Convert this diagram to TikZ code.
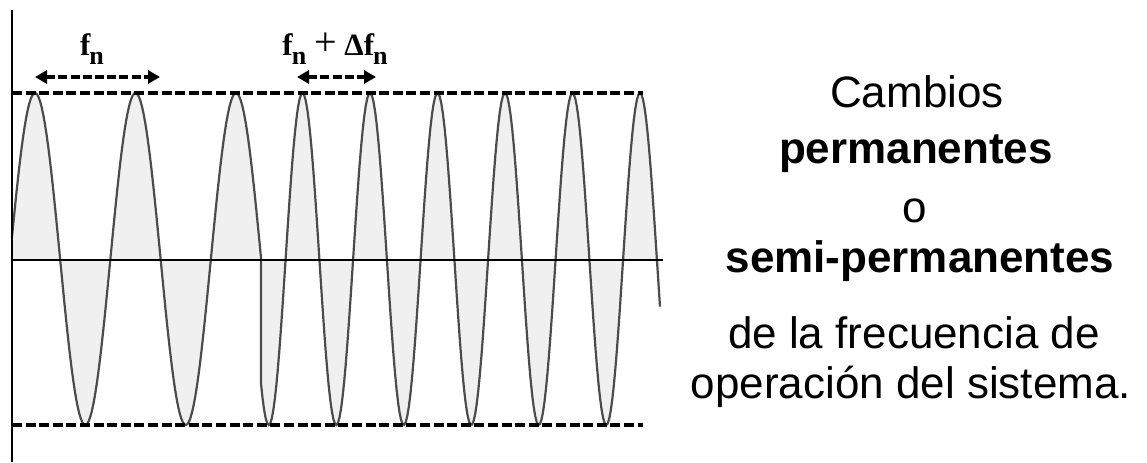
\documentclass[tikz,border=0pt]{standalone}
\usepackage{fontspec}
\setmainfont{Liberation Serif}
\newfontfamily\arialfont{Liberation Sans}
\usetikzlibrary{arrows.meta}
\newcommand{\fsub}{\textbf{f}\kern-0.6pt\raisebox{-4.5pt}{\fontsize{13}{13}\selectfont\textbf{n}}}
\newcommand{\bigplus}{{\fontsize{20}{20}\selectfont+}}
\tikzset{
  axisline/.style={line width=1pt, black},
  limitline/.style={line width=1.6pt, black, dash pattern=on 5pt off 1.8pt},
  spanarrow/.style={line width=1.6pt, black, dash pattern=on 4.5pt off 1.6pt,
    {Triangle[length=6pt,width=6.5pt]}-{Triangle[length=6pt,width=6.5pt]}},
  wave/.style={line width=1.1pt, black!70},
  wavefill/.style={fill=gray!12},
  rtext/.style={font=\arialfont\fontsize{22}{26}\selectfont, anchor=base, inner sep=0pt},
  rbold/.style={font=\arialfont\bfseries\fontsize{22}{26}\selectfont, anchor=base, inner sep=0pt},
  lab/.style={font=\fontsize{15.5}{18}\selectfont, anchor=base, inner sep=0pt}
}
\begin{document}
\begin{tikzpicture}[x=0.5pt, y=-0.5pt]
\useasboundingbox (0,0) rectangle (1147,462);
% wave fill and stroke
\fill[wavefill] plot[domain=12:261,samples=160] (\x,{259-166*cos(3.58209*(\x-35))})
  -- plot[domain=261:660,samples=260] (\x,{259-166*cos(5.33333*(\x-640))})
  -- (660,260) -- (12,260) -- cycle;
\draw[wave] plot[domain=12:261,samples=160] (\x,{259-166*cos(3.58209*(\x-35))})
  -- plot[domain=261:660,samples=260] (\x,{259-166*cos(5.33333*(\x-640))});
% axes
\coordinate (vtop) at (12,10);
\coordinate (vbot) at (12,462);
\coordinate (h0) at (12,260);
\coordinate (h1) at (663,260);
\draw[axisline] (vtop) -- (vbot);
\draw[axisline] (h0) -- (h1);
% limit lines
\coordinate (t0) at (12,93);
\coordinate (t1) at (643,93);
\coordinate (b0) at (12,425);
\coordinate (b1) at (643,425);
\draw[limitline] (t0) -- (t1);
\draw[limitline] (b0) -- (b1);
% period arrows
\coordinate (a0) at (35,77);
\coordinate (a1) at (160,77);
\coordinate (c0) at (297,77);
\coordinate (c1) at (376,77);
\draw[spanarrow] (a0) -- (a1);
\draw[spanarrow] (c0) -- (c1);
\node[lab] (fn) at (92,55) {\fsub};
\node[lab] (fd) at (335,55) {\fsub{} \bigplus{} \textbf{Δ}\fsub};
% right text
\node[rtext] (l1) at (917,107) {Cambios};
\node[rbold] (l2) at (916,163) {permanentes};
\node[rtext] (l3) at (915,222) {o};
\node[rbold] (l4) at (920,272) {semi-permanentes};
\node[rtext] (l5) at (914,348) {de la frecuencia de};
\node[rtext] (l6) at (911,398) {operación del sistema.};
\end{tikzpicture}
\end{document}
